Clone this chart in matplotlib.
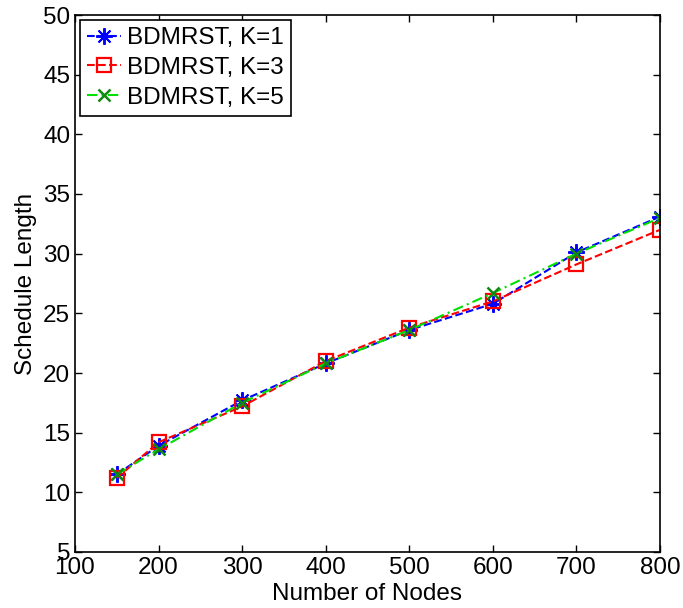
import matplotlib
matplotlib.use("Agg")
import matplotlib.pyplot as plt

plt.rcParams['font.family'] = ['Liberation Sans', 'DejaVu Sans']

nodes = [150, 200, 300, 400, 500, 600, 700, 800]
k1 = [11.5, 13.9, 17.7, 20.8, 23.6, 25.8, 30.1, 33.1]
k3 = [11.2, 14.2, 17.2, 21.0, 23.8, 26.0, 29.1, 32.0]
k5 = [11.5, 13.6, 17.5, 20.8, 23.6, 26.7, 30.0, 33.0]
labels = ['BDMRST, K=1', 'BDMRST, K=3', 'BDMRST, K=5']
xticks = [100, 200, 300, 400, 500, 600, 700, 800]
yticks = [5, 10, 15, 20, 25, 30, 35, 40, 45, 50]

fs = 17.5
fig = plt.figure(figsize=(6.83, 6.08), dpi=100)
ax = fig.add_axes([75 / 683, 56 / 608, 585 / 683, 537 / 608])

ax.plot(nodes, k1, linestyle='--', color='#0000ff', lw=1.5, marker=(8, 2, 0),
        markersize=12, markeredgewidth=1.4, label=labels[0])
ax.plot(nodes, k3, linestyle='--', color='#ff0000', lw=1.5, marker='s',
        markersize=9.5, markerfacecolor='none', markeredgewidth=1.6, label=labels[1])
ax.plot(nodes, k5, linestyle=(0, (5, 2, 1, 2)), color='#00e000', lw=1.5, marker='x',
        markersize=9, markeredgecolor='#118a11', markeredgewidth=1.8, label=labels[2])

ax.set_xlim(100, 800)
ax.set_ylim(5, 50)
ax.set_xticks(xticks)
ax.set_yticks(yticks)
ax.tick_params(direction='in', top=True, right=True, labelsize=fs, length=5, width=1)
for s in ax.spines.values():
    s.set_linewidth(1.2)
ax.set_xlabel('Number of Nodes', fontsize=fs, labelpad=3)
ax.set_ylabel('Schedule Length', fontsize=fs, labelpad=4)

leg = ax.legend(loc='upper left', fontsize=fs, handlelength=1.4, handletextpad=0.25,
                borderpad=0.3, labelspacing=0.32, borderaxespad=0.2, fancybox=False,
                framealpha=1, edgecolor='black')
leg.get_frame().set_linewidth(1.2)

fig.savefig('out.png', dpi=100)
